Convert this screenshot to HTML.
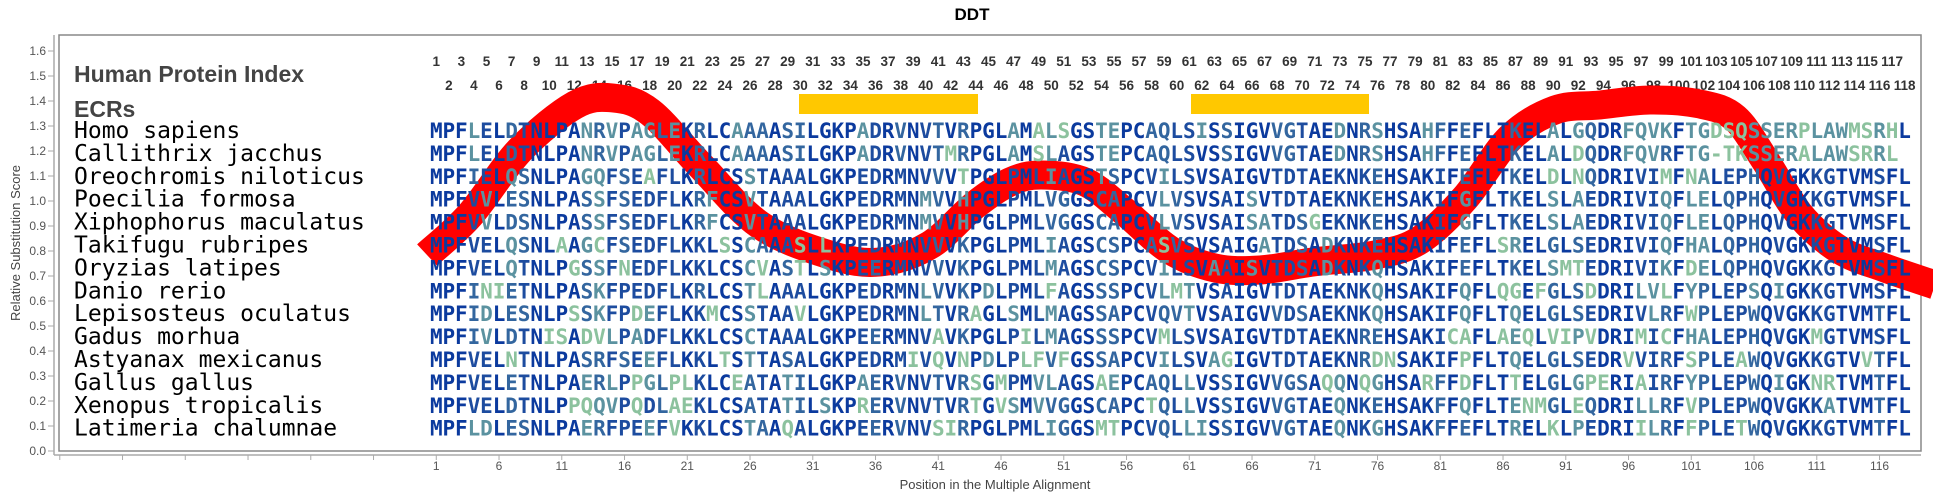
<!DOCTYPE html>
<html><head><meta charset="utf-8"><style>
html,body{margin:0;padding:0;background:#fff;}
svg{display:block;}
</style></head><body>
<svg id="s" width="1933" height="500" xmlns="http://www.w3.org/2000/svg">
<rect width="1933" height="500" fill="#fff"/>
<text x="972" y="20" text-anchor="middle" font-family="Liberation Sans, sans-serif" font-weight="bold" font-size="17" fill="#000">DDT</text>
<line x1="54" y1="35" x2="54" y2="455" stroke="#aaa" stroke-width="1.5"/>
<line x1="54" y1="455" x2="1921" y2="455" stroke="#aaa" stroke-width="1.5"/>
<rect x="59" y="35" width="1862" height="416" fill="none" stroke="#888" stroke-width="1.5"/>
<g id="yt" font-family="Liberation Sans, sans-serif" font-size="12" fill="#555" text-anchor="end"></g>
<g id="xt" font-family="Liberation Sans, sans-serif" font-size="12" fill="#555" text-anchor="middle"></g>
<text transform="translate(20,243) rotate(-90)" text-anchor="middle" font-family="Liberation Sans, sans-serif" font-size="13" fill="#444">Relative Substitution Score</text>
<text x="995" y="489" text-anchor="middle" font-family="Liberation Sans, sans-serif" font-size="13" fill="#444">Position in the Multiple Alignment</text>
<text x="74" y="82" font-family="Liberation Sans, sans-serif" font-weight="bold" font-size="23" fill="#444">Human Protein Index</text>
<text x="74" y="117" font-family="Liberation Sans, sans-serif" font-weight="bold" font-size="23" fill="#444">ECRs</text>
<g id="idx" font-family="Liberation Sans, sans-serif" font-weight="bold" font-size="13.5" fill="#333" text-anchor="middle"></g>
<rect x="799" y="94" width="179" height="20" fill="#FFC800"/>
<rect x="1191" y="94" width="178" height="20" fill="#FFC800"/>
<path id="curve" fill="none" stroke="#ff0000" stroke-width="29" stroke-linejoin="round"/>
<g id="names" font-family="DejaVu Sans Mono, monospace" font-size="23" fill="#000"></g>
<g id="seqs" font-family="DejaVu Sans Mono, monospace" font-weight="bold" font-size="21" text-anchor="middle"></g>
</svg>
<script>
var NS="http://www.w3.org/2000/svg";
function el(p,t,a,txt){var e=document.createElementNS(NS,t);for(var k in a)e.setAttribute(k,a[k]);if(txt!=null)e.textContent=txt;p.appendChild(e);return e;}
var S0=430,P=12.55;
function cx(p){return S0+(p-0.5)*P;}
var yt=document.getElementById('yt'),sv=document.getElementById('s');
for(var i=0;i<=16;i++){var y=451-i*25;el(yt,'text',{x:46,y:y+4},(i/10).toFixed(1));el(sv,'line',{x1:48,y1:y,x2:54,y2:y,stroke:'#aaa'});}
var xt=document.getElementById('xt');
for(var p=-29;p<=116;p+=5){var x=cx(p);el(sv,'line',{x1:x,y1:455,x2:x,y2:460,stroke:'#aaa'});if(p>=1)el(xt,'text',{x:x,y:470},String(p));}
var idx=document.getElementById('idx');
for(var n=1;n<=118;n++){el(idx,'text',{x:cx(n),y:(n%2?66:90)},String(n));}
var pts=[[427,255],[470,215],[520,150],[575,105],[613,98],[650,112],[700,165],[760,225],[830,255],[880,262],[930,245],[975,205],[1010,182],[1041,175],[1085,182],[1125,212],[1170,250],[1215,268],[1260,270],[1313,262],[1375,255],[1420,240],[1465,198],[1510,138],[1555,110],[1600,105],[1650,100],[1700,104],[1735,118],[1765,160],[1800,215],[1840,250],[1885,268],[1935,285]];
var d='M'+pts[0][0]+','+pts[0][1];
for(var i=0;i<pts.length-1;i++){var p0=pts[Math.max(0,i-1)],p1=pts[i],p2=pts[i+1],p3=pts[Math.min(pts.length-1,i+2)];
d+=' C'+(p1[0]+(p2[0]-p0[0])/6)+','+(p1[1]+(p2[1]-p0[1])/6)+' '+(p2[0]-(p3[0]-p1[0])/6)+','+(p2[1]-(p3[1]-p1[1])/6)+' '+p2[0]+','+p2[1];}
document.getElementById('curve').setAttribute('d',d);
var rows=[
["Homo sapiens","MPFLELDTNLPANRVPAGLEKRLCAAAASILGKPADRVNVTVRPGLAMALSGSTEPCAQLSISSIGVVGTAEDNRSHSAHFFEFLTKELALGQDRFQVKFTGDSQSSERPLAWMSRHL"],
["Callithrix jacchus","MPFLELDTNLPANRVPAGLEKRLCAAAASILGKPADRVNVTMRPGLAMSLAGSTEPCAQLSVSSIGVVGTAEDNRSHSAHFFEFLTKELALDQDRFQVRFTG-TKSSERALAWSRRL"],
["Oreochromis niloticus","MPFIELQSNLPAGQFSEAFLKRLCSSTAAALGKPEDRMNVVVTPGLPMLIAGSTSPCVILSVSAIGVTDTAEKNKEHSAKIFEFLTKELDLNQDRIVIMFNALEPHQVGKKGTVMSFL"],
["Poecilia formosa","MPFVVLESNLPASSFSEDFLKRFCSVTAAALGKPEDRMNMVVHPGLPMLVGGSCAPCVLVSVSAISVTDTAEKNKEHSAKIFGFLTKELSLAEDRIVIQFLELQPHQVGKKGTVMSFL"],
["Xiphophorus maculatus","MPFVVLDSNLPASSFSEDFLKRFCSVTAAALGKPEDRMNMVVHPGLPMLVGGSCAPCVLVSVSAISATDSGEKNKEHSAKIFGFLTKELSLAEDRIVIQFLELQPHQVGKKGTVMSFL"],
["Takifugu rubripes","MPFVELQSNLAAGCFSEDFLKKLSSCAAASLLKPEDRMNVVVKPGLPMLIAGSCSPCASVSVSAIGATDSADKNKEHSAKIFEFLSRELGLSEDRIVIQFHALQPHQVGKKGTVMSFL"],
["Oryzias latipes","MPFVELQTNLPGSSFNEDFLKKLCSCVASTLSKPEERMNVVVKPGLPMLMAGSCSPCVILSVAAISVTDSADKNKQHSAKIFEFLTKELSMTEDRIVIKFDELQPHQVGKKGTVMSFL"],
["Danio rerio","MPFINIETNLPASKFPEDFLKRLCSTLAAALGKPEDRMNLVVKPDLPMLFAGSSSPCVLMTVSAIGVTDTAEKNKQHSAKIFQFLQGEFGLSDDRILVLFYPLEPSQIGKKGTVMSFL"],
["Lepisosteus oculatus","MPFIDLESNLPSSKFPDEFLKKMCSSTAAVLGKPEDRMNLTVRAGLSMLMAGSSAPCVQVTVSAIGVVDSAEKNKQHSAKIFQFLTQELGLSEDRIVLRFWPLEPWQVGKKGTVMTFL"],
["Gadus morhua","MPFIVLDTNISADVLPADFLKKLCSCTAAALGKPEERMNVAVKPGLPILMAGSSSPCVMLSVSAIGVTDTAEKNREHSAKICAFLAEQLVIPVDRIMICFHALEPHQVGKMGTVMSFL"],
["Astyanax mexicanus","MPFVELNTNLPASRFSEEFLKKLTSTTASALGKPEDRMIVQVNPDLPLFVFGSSAPCVILSVAGIGVTDTAEKNRDNSAKIFPFLTQELGLSEDRVVIRFSPLEAWQVGKKGTVVTFL"],
["Gallus gallus","MPFVELETNLPAERLPPGLPLKLCEATATILGKPAERVNVTVRSGMPMVLAGSAEPCAQLLVSSIGVVGSAQQNQGHSARFFDFLTTELGLGPERIAIRFYPLEPWQIGKNRTVMTFL"],
["Xenopus tropicalis","MPFVELDTNLPPQQVPQDLAEKLCSATATILSKPRERVNVTVRTGVSMVVGGSCAPCTQLLVSSIGVVGTAEQNKEHSAKFFQFLTENMGLEQDRILLRFVPLEPWQVGKKATVMTFL"],
["Latimeria chalumnae","MPFLDLESNLPAERFPEEFVKKLCSTAAQALGKPEERVNVSIRPGLPMLIGGSMTPCVQLLISSIGVVGTAEQNKGHSAKFFEFLTRELKLPEDRIILRFFPLETWQVGKKGTVMTFL"]];
var names=document.getElementById('names'),seqs=document.getElementById('seqs');
var cols=['#0b3a9e','#1d4c9f','#33669f','#5b92a0','#8cc29e'];
for(var r=0;r<rows.length;r++){
 var yc=130+r*22.9;
 el(names,'text',{x:74,y:yc+8},rows[r][0]);
 var s=rows[r][1],t=el(seqs,'text',{y:yc+8});
 for(var i=0;i<s.length;i++){
  var c=s[i],cnt=0;for(var k=0;k<rows.length;k++)if(rows[k][1][i]==c)cnt++;
  var col=cnt>=11?cols[0]:cnt>=7?cols[1]:cnt>=4?cols[2]:cnt>=2?cols[3]:cols[4];
  el(t,'tspan',{x:cx(i+1),fill:col},c);
 }
}
</script>
</body></html>
